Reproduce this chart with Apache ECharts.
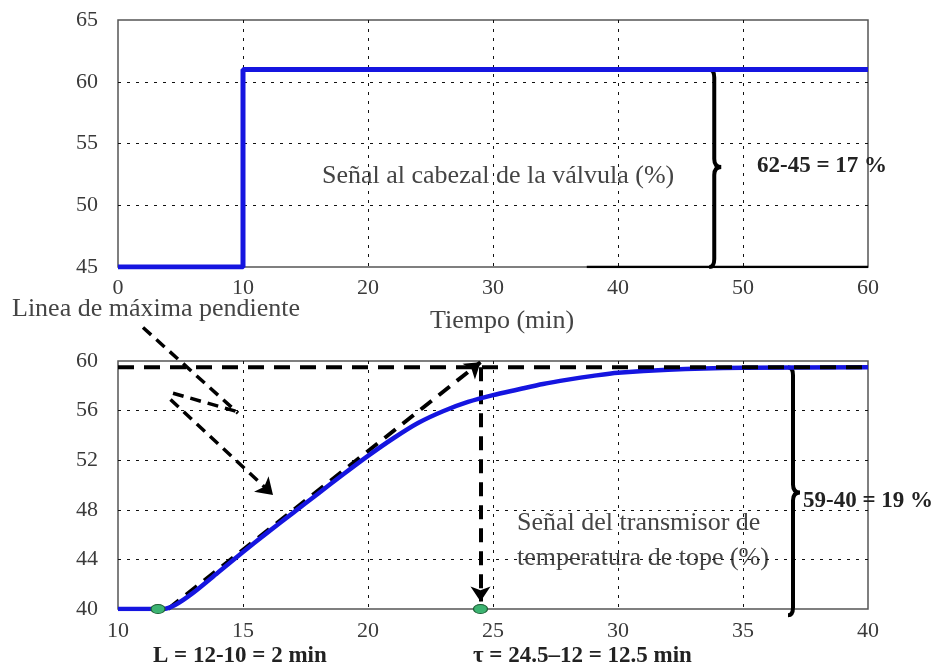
<!DOCTYPE html>
<html>
<head>
<meta charset="utf-8">
<script src="https://cdn.jsdelivr.net/npm/echarts@6/dist/echarts.min.js"></script>
<style>
  html, body { margin: 0; padding: 0; background: #fff; }
  #main { width: 937px; height: 671px; }
</style>
</head>
<body>
<div id="main"></div>
<script>
// señal al cabezal de la válvula (escalón)
var stepTime = [0, 10, 10, 60];
var stepValue = [45, 45, 61, 61];
var stepBase = [[37.5, 45], [60, 45]];

// respuesta del transmisor de temperatura
var respTime = [10, 11, 11.8, 12.3, 13, 14, 15, 16, 17, 18, 19, 20, 21, 22, 23, 24, 25, 26, 27, 28, 29, 30, 32, 35, 40];
var respValue = [40, 40, 40, 40.35, 41.3, 42.95, 44.6, 46.2, 47.75, 49.3, 50.85, 52.35, 53.75, 55.0, 55.95, 56.7, 57.25, 57.7, 58.15, 58.5, 58.8, 59.05, 59.3, 59.45, 59.5];

var finalLine = [[10, 59.5], [40, 59.5]];
var tangent = [[12, 40], [24.5, 59.9]];
var tauLine = [[24.5, 59.5], [24.5, 40.6]];
var pointers = [
  [[11.0, 62.7], [14.8, 55.8]],
  [[12.2, 57.4], [14.8, 55.9]],
  [[12.1, 56.9], [16.2, 49.2]]
];
var markers = [[11.6, 40], [24.5, 40]];

// llaves: x, arriba, abajo, punta
var braceTop = [[47.7, 61, 45, 53.1]];
var braceBottom = [[37, 59.5, 39.5, 49.4]];

var topTicks = { min: 0, max: 60, interval: 10 };
var topY = { min: 45, max: 65, interval: 5 };
var botTicks = { min: 10, max: 40, interval: 5 };
var botY = { min: 40, max: 60, interval: 4 };

var font = 'Liberation Serif';
var chart = echarts.init(document.getElementById('main'));

function axis(extra, margin) {
  return Object.assign({
    type: 'value',
    axisLine: { show: false },
    axisTick: { show: false },
    axisLabel: { fontFamily: font, fontSize: 22, color: '#3a3a3a', margin: margin },
    splitLine: {
      show: true, showMinLine: false, showMaxLine: false,
      lineStyle: { color: '#111', width: 1, type: [3, 6] }
    }
  }, extra);
}

function brace(params, api) {
  var t = api.coord([api.value(0), api.value(1)]);
  var b = api.coord([api.value(0), api.value(2)]);
  var m = api.coord([api.value(0), api.value(3)]);
  var x = t[0];
  var d = 'M' + (x - 5) + ',' + t[1] + ' Q' + x + ',' + t[1] + ' ' + x + ',' + (t[1] + 8) +
    ' L' + x + ',' + (m[1] - 8) + ' Q' + x + ',' + m[1] + ' ' + (x + 7) + ',' + m[1] +
    ' Q' + x + ',' + m[1] + ' ' + x + ',' + (m[1] + 8) +
    ' L' + x + ',' + (b[1] - 8) + ' Q' + x + ',' + b[1] + ' ' + (x - 5) + ',' + b[1];
  return { type: 'path', shape: { pathData: d }, style: { stroke: '#000', lineWidth: 4, fill: null } };
}

var txt = function (x, y, s, size, bold) {
  return {
    type: 'text', left: x, top: y,
    style: { text: s, font: (bold ? 'bold ' : '') + size + 'px "' + font + '"', fill: bold ? '#222' : '#444' }
  };
};

var option = {
  backgroundColor: '#fff',
  animation: false,
  grid: [
    { left: 118, top: 20, width: 750, height: 247, show: true, borderColor: '#555', borderWidth: 1.5 },
    { left: 118, top: 361, width: 750, height: 248, show: true, borderColor: '#555', borderWidth: 1.5 }
  ],
  xAxis: [
    axis(Object.assign({ gridIndex: 0 }, topTicks), 10),
    axis(Object.assign({ gridIndex: 1 }, botTicks), 11)
  ],
  yAxis: [
    axis(Object.assign({ gridIndex: 0 }, topY), 20),
    axis(Object.assign({ gridIndex: 1 }, botY), 20)
  ],
  graphic: [
    txt(322, 163, 'Señal al cabezal de la válvula (%)', 26),
    txt(757, 155, '62-45 = 17 %', 23, true),
    txt(430, 308, 'Tiempo (min)', 26),
    txt(12, 296, 'Linea de máxima pendiente', 26),
    txt(517, 510, 'Señal del transmisor de', 26),
    txt(517, 545, 'temperatura de tope (%)', 26),
    txt(803, 490, '59-40 = 19 %', 23, true),
    txt(153, 645, 'L = 12-10 = 2 min', 23, true),
    txt(473, 645, 'τ = 24.5–12 = 12.5 min', 23, true)
  ],
  series: [
    {
      type: 'line', xAxisIndex: 0, yAxisIndex: 0, symbol: 'none',
      data: stepTime.map(function (t, i) { return [t, stepValue[i]]; }),
      lineStyle: { color: '#1515e0', width: 5 }
    },
    {
      type: 'line', xAxisIndex: 0, yAxisIndex: 0, symbol: 'none', data: stepBase,
      lineStyle: { color: '#000', width: 2.5 }
    },
    {
      type: 'custom', xAxisIndex: 0, yAxisIndex: 0, clip: false, data: braceTop, renderItem: brace
    },
    {
      type: 'line', xAxisIndex: 1, yAxisIndex: 1, symbol: 'none', smooth: 0.3,
      data: respTime.map(function (t, i) { return [t, respValue[i]]; }),
      lineStyle: { color: '#1515e0', width: 4.5 }
    },
    {
      type: 'line', xAxisIndex: 1, yAxisIndex: 1, symbol: 'none', clip: false, data: finalLine,
      lineStyle: { color: '#000', width: 4, type: [16, 10] }
    },
    {
      type: 'lines', coordinateSystem: 'cartesian2d', xAxisIndex: 1, yAxisIndex: 1, clip: false,
      symbol: ['none', 'arrow'], symbolSize: 15,
      lineStyle: { color: '#000', width: 4, type: [14, 9], opacity: 1 },
      data: [{ coords: tangent }, { coords: tauLine }]
    },
    {
      type: 'lines', coordinateSystem: 'cartesian2d', xAxisIndex: 1, yAxisIndex: 1, clip: false,
      symbol: ['none', 'none'],
      lineStyle: { color: '#000', width: 3.5, type: [11, 7], opacity: 1 },
      data: pointers.slice(0, 2).map(function (p) { return { coords: p }; })
    },
    {
      type: 'lines', coordinateSystem: 'cartesian2d', xAxisIndex: 1, yAxisIndex: 1, clip: false,
      symbol: ['none', 'arrow'], symbolSize: 16,
      lineStyle: { color: '#000', width: 3.5, type: [11, 7], opacity: 1 },
      data: pointers.slice(2).map(function (p) { return { coords: p }; })
    },
    {
      type: 'custom', xAxisIndex: 1, yAxisIndex: 1, clip: false, data: braceBottom, renderItem: brace
    },
    {
      type: 'scatter', xAxisIndex: 1, yAxisIndex: 1, clip: false, symbol: 'circle', symbolSize: [14, 9],
      data: markers, z: 5,
      itemStyle: { color: '#3cb371', borderColor: '#1d5e35', borderWidth: 1, opacity: 1 }
    }
  ]
};

chart.setOption(option);
</script>
</body>
</html>
